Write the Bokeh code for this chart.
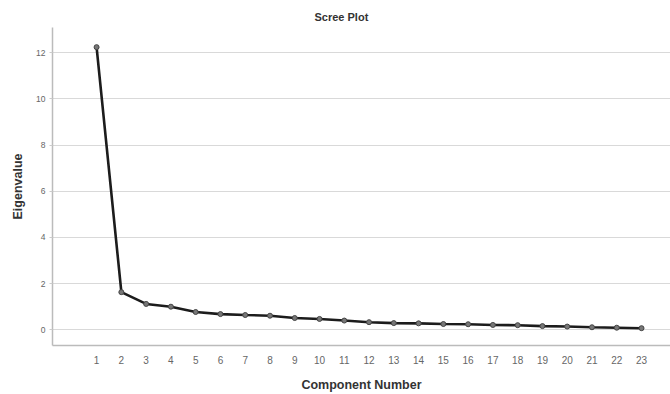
from bokeh.plotting import figure
from bokeh.models import ColumnDataSource, FixedTicker, Range1d
from bokeh.embed import file_html
from bokeh.resources import INLINE

components = list(range(1, 24))
eigenvalues = [12.24, 1.63, 1.12, 1.00, 0.77, 0.68, 0.64, 0.61, 0.51, 0.47,
               0.40, 0.33, 0.29, 0.28, 0.25, 0.24, 0.21, 0.20, 0.16, 0.14,
               0.11, 0.09, 0.07]
y_ticks = [0, 2, 4, 6, 8, 10, 12]

src = ColumnDataSource(dict(x=components, y=eigenvalues))

p = figure(width=670, height=394, output_backend="svg", toolbar_location=None,
           x_range=Range1d(-0.78, 24.17), y_range=Range1d(-0.68, 13.09),
           min_border_left=52, min_border_right=0, min_border_top=27,
           min_border_bottom=49)

p.title.text = "Scree Plot"
p.title.align = "left"
p.title.offset = 262
p.title.standoff = 10
p.title.text_font = "Arial"
p.title.text_font_size = "11px"
p.title.text_font_style = "bold"
p.title.text_color = "#333333"

p.outline_line_color = None
p.background_fill_color = "white"
p.border_fill_color = "white"

p.line("x", "y", source=src, line_color="#1c1c1c", line_width=2.6)
p.scatter("x", "y", source=src, size=5, marker="circle",
          fill_color="#777777", line_color="#444444", line_width=1)

# x axis
xa = p.xaxis[0]
xa.ticker = FixedTicker(ticks=components)
xa.axis_label = "Component Number"
xa.axis_label_text_font = "Arial"
xa.axis_label_text_font_size = "12.5px"
xa.axis_label_text_font_style = "bold"
xa.axis_label_text_color = "#333333"
xa.axis_label_standoff = 11
xa.major_label_text_font = "Arial"
xa.major_label_text_font_size = "10px"
xa.major_label_text_color = "#666666"
xa.major_label_standoff = 4
xa.major_tick_line_color = None
xa.minor_tick_line_color = None
xa.axis_line_color = "#bbbbbb"
xa.axis_line_width = 1.5

# y axis
ya = p.yaxis[0]
ya.ticker = FixedTicker(ticks=y_ticks)
ya.axis_label = "Eigenvalue"
ya.axis_label_text_font = "Arial"
ya.axis_label_text_font_size = "12.5px"
ya.axis_label_text_font_style = "bold"
ya.axis_label_text_color = "#333333"
ya.axis_label_standoff = 8
ya.major_label_text_font = "Arial"
ya.major_label_text_font_size = "8.5px"
ya.major_label_text_color = "#666666"
ya.major_label_standoff = 4
ya.major_tick_line_color = "#cccccc"
ya.major_tick_out = 3
ya.major_tick_in = 0
ya.minor_tick_line_color = None
ya.axis_line_color = "#bbbbbb"
ya.axis_line_width = 1.5

p.xgrid.grid_line_color = None
p.ygrid.grid_line_color = "#d9d9d9"
p.ygrid.grid_line_width = 1

open("out.html", "w").write(file_html(p, INLINE))
